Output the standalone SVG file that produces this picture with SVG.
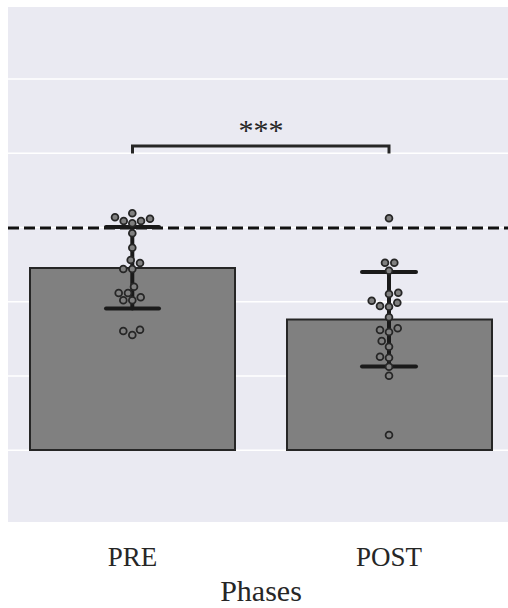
<svg xmlns="http://www.w3.org/2000/svg" width="508" height="608" viewBox="0 0 508 608">
<style>
.grid{stroke:#ffffff;stroke-width:1.5}
.bar{fill:#808080;stroke:#262626;stroke-width:2}
.err{stroke:#1a1a1a;stroke-width:4;stroke-linecap:round;fill:none}
.dot{fill:#808080;stroke:#262626;stroke-width:1.8}
.lbl{font-family:"Liberation Serif","Times New Roman",serif;fill:#262626;text-anchor:middle}
</style>
<rect x="0" y="0" width="508" height="608" fill="#ffffff"/>
<rect x="8" y="7" width="500" height="515" fill="#EAEAF2"/>
<g id="grid">
<line class="grid" x1="8" y1="79" x2="508" y2="79"/>
<line class="grid" x1="8" y1="153.3" x2="508" y2="153.3"/>
<line class="grid" x1="8" y1="227.5" x2="508" y2="227.5"/>
<line class="grid" x1="8" y1="301.7" x2="508" y2="301.7"/>
<line class="grid" x1="8" y1="375.9" x2="508" y2="375.9"/>
<line class="grid" x1="8" y1="450.2" x2="508" y2="450.2"/>
</g>
<g id="bar-pre"><rect class="bar" x="30" y="268" width="205" height="182"/></g>
<g id="bar-post"><rect class="bar" x="287" y="319.5" width="205" height="130.5"/></g>
<g id="reference-line"><line x1="8" y1="228" x2="508" y2="228" stroke="#111" stroke-width="3" stroke-dasharray="11 5"/></g>
<g id="errorbars">
<line class="err" x1="132.3" y1="227" x2="132.3" y2="308.5"/>
<line class="err" x1="106" y1="227" x2="159" y2="227"/>
<line class="err" x1="106" y1="308.5" x2="159" y2="308.5"/>
<line class="err" x1="389" y1="272" x2="389" y2="366.5"/>
<line class="err" x1="362" y1="272" x2="416" y2="272"/>
<line class="err" x1="362" y1="366.5" x2="416" y2="366.5"/>
</g>
<g id="dots-pre">
<circle class="dot" cx="115" cy="217.3" r="3.4"/>
<circle class="dot" cx="123.7" cy="221" r="3.4"/>
<circle class="dot" cx="132.3" cy="213.3" r="3.4"/>
<circle class="dot" cx="132.3" cy="223.3" r="3.4"/>
<circle class="dot" cx="141" cy="221" r="3.4"/>
<circle class="dot" cx="150" cy="218.7" r="3.4"/>
<circle class="dot" cx="132.3" cy="233.3" r="3.4"/>
<circle class="dot" cx="132.3" cy="247.7" r="3.4"/>
<circle class="dot" cx="130.7" cy="260" r="3.4"/>
<circle class="dot" cx="140" cy="263" r="3.4"/>
<circle class="dot" cx="123.3" cy="269" r="3.4"/>
<circle class="dot" cx="132.3" cy="269" r="3.4"/>
<circle class="dot" cx="134" cy="286.7" r="3.4"/>
<circle class="dot" cx="118.7" cy="293" r="3.4"/>
<circle class="dot" cx="128" cy="293" r="3.4"/>
<circle class="dot" cx="123.3" cy="300.3" r="3.4"/>
<circle class="dot" cx="132.3" cy="300.3" r="3.4"/>
<circle class="dot" cx="140.7" cy="297.3" r="3.4"/>
<circle class="dot" cx="123.3" cy="331" r="3.4"/>
<circle class="dot" cx="132.3" cy="335" r="3.4"/>
<circle class="dot" cx="140" cy="329.7" r="3.4"/>
</g>
<g id="dots-post">
<circle class="dot" cx="389" cy="218.3" r="3.4"/>
<circle class="dot" cx="385" cy="262.7" r="3.4"/>
<circle class="dot" cx="394.3" cy="262.7" r="3.4"/>
<circle class="dot" cx="389" cy="270.7" r="3.4"/>
<circle class="dot" cx="389" cy="294" r="3.4"/>
<circle class="dot" cx="398.3" cy="292.7" r="3.4"/>
<circle class="dot" cx="371.7" cy="300.7" r="3.4"/>
<circle class="dot" cx="380" cy="306" r="3.4"/>
<circle class="dot" cx="389" cy="306.7" r="3.4"/>
<circle class="dot" cx="397.3" cy="302.7" r="3.4"/>
<circle class="dot" cx="389" cy="317.3" r="3.4"/>
<circle class="dot" cx="380" cy="330" r="3.4"/>
<circle class="dot" cx="389" cy="332" r="3.4"/>
<circle class="dot" cx="397.7" cy="328.3" r="3.4"/>
<circle class="dot" cx="381.7" cy="341" r="3.4"/>
<circle class="dot" cx="389" cy="346.7" r="3.4"/>
<circle class="dot" cx="380" cy="356.7" r="3.4"/>
<circle class="dot" cx="389" cy="357.7" r="3.4"/>
<circle class="dot" cx="389" cy="366.7" r="3.4"/>
<circle class="dot" cx="389" cy="375.7" r="3.4"/>
<circle class="dot" cx="389" cy="435" r="3.4"/>
</g>
<g id="significance">
<path d="M132.5 153.5 V146 H389 V153.5" fill="none" stroke="#262626" stroke-width="3" stroke-linejoin="miter"/>
<text class="lbl" x="261" y="140" font-size="30">***</text>
</g>
<g id="labels">
<text class="lbl" x="132.5" y="566" font-size="27">PRE</text>
<text class="lbl" x="389" y="566" font-size="27">POST</text>
<text class="lbl" x="261" y="601" font-size="30">Phases</text>
</g>
</svg>
